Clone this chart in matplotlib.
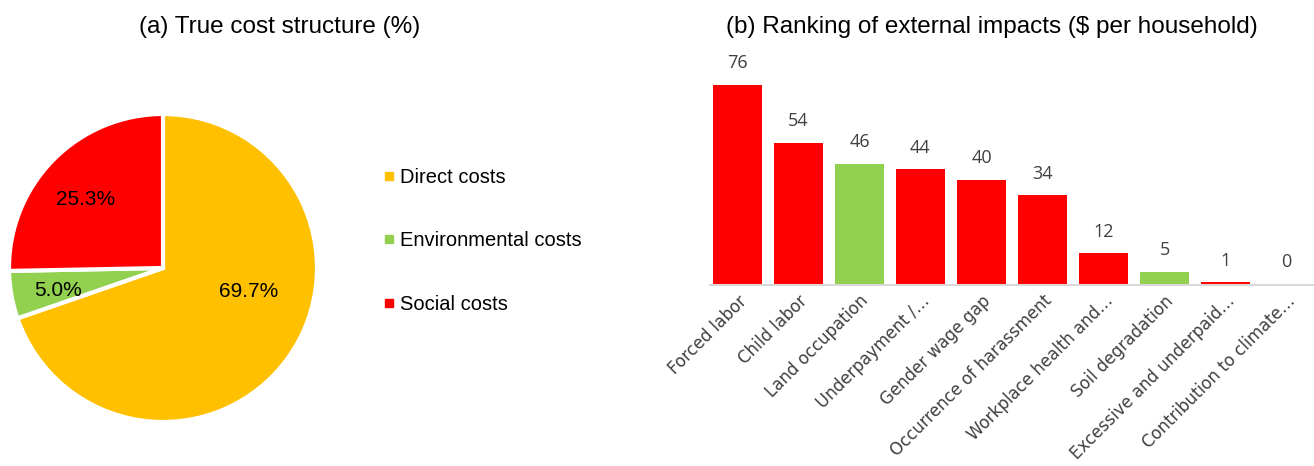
import matplotlib
matplotlib.use("Agg")
import matplotlib.pyplot as plt
from matplotlib.lines import Line2D
import numpy as np

# ---- data ----
pie_labels = ["Direct costs", "Environmental costs", "Social costs"]
pie_values = [69.7, 5.0, 25.3]
pie_colors = ["#FFC000", "#92D050", "#FF0000"]

bar_labels = ["Forced labor", "Child labor", "Land occupation", "Underpayment /\u2026",
              "Gender wage gap", "Occurrence of harassment", "Workplace health and\u2026",
              "Soil degradation", "Excessive and underpaid\u2026", "Contribution to climate\u2026"]
bar_values = [76, 54, 46, 44, 40, 34, 12, 5, 1, 0.4]
bar_kind = ["social", "social", "env", "social", "social", "social", "social", "env", "social", "climate"]
kind_colors = {"social": "#FF0000", "env": "#92D050", "climate": "#F7D5D7"}

W, H = 1314, 466
fig = plt.figure(figsize=(W / 100, H / 100), dpi=100)

title_font = "Liberation Sans"
tick_font = "DejaVu Sans"

# ---- pie ----
cx, cy, r = 163, 268, 154
axp = fig.add_axes([(cx - r) / W, (H - cy - r) / H, 2 * r / W, 2 * r / H])
wedges, texts, autotexts = axp.pie(
    pie_values, colors=pie_colors, startangle=90, counterclock=False,
    autopct="%.1f%%", pctdistance=0.65,
    wedgeprops=dict(edgecolor="white", linewidth=3),
    textprops=dict(fontsize=15, color="black", family=title_font))
# nudge labels towards Excel-like positions (angle shift in degrees, radius fraction)
nudges = [(20, 0.58), (2, 0.70), (3, 0.67)]
cum = 0
for w, t, v, (da, rr) in zip(wedges, autotexts, pie_values, nudges):
    mid = 90 - (cum + v / 2) / 100 * 360 + da
    cum += v
    t.set_position((rr * np.cos(np.radians(mid)), rr * np.sin(np.radians(mid))))
for w in wedges:
    w.set_clip_on(False)
axp.set_xlim(-1, 1)
axp.set_ylim(-1, 1)
axp.set_aspect("equal")
axp.axis("off")

fig.text(280 / W, 1 - 27 / H, "(a) True cost structure (%)", ha="center", va="center",
         fontsize=17.5, family=title_font, color="black")

handles = [Line2D([], [], marker="s", linestyle="none", markersize=6,
                  markerfacecolor=c, markeredgecolor=c) for c in pie_colors]
fig.legend(handles, pie_labels, loc="center left", bbox_to_anchor=(384 / W, 1 - 241 / H),
           frameon=False, prop=dict(family=title_font, size=14.5),
           handlelength=0.45, handletextpad=0.35, labelspacing=2.2, borderpad=0,
           borderaxespad=0)

# ---- bars ----
x0, xr = 710, 1314
ybase, ytop = 285, 61
axb = fig.add_axes([x0 / W, (H - ybase) / H, (xr - x0) / W, (ybase - ytop) / H])
x = np.arange(len(bar_values))
bars = axb.bar(x, bar_values, width=0.79, color=[kind_colors[k] for k in bar_kind])
axb.bar_label(bars, labels=[f"{v:.0f}" for v in bar_values], padding=9,
              fontsize=13, color="#404040", family="Open Sans")
axb.set_xlim(-0.45, 9.45)
axb.set_ylim(0, 85)
axb.set_xticks(x)
axb.set_xticklabels(bar_labels, rotation=45, ha="right", rotation_mode="anchor",
                    fontsize=12, color="#404040", family=tick_font)
axb.tick_params(axis="x", length=0, pad=5)
axb.set_yticks([])
for s in ["top", "right", "left"]:
    axb.spines[s].set_visible(False)
axb.spines["bottom"].set_color("#D9D9D9")
axb.spines["bottom"].set_linewidth(1.5)

fig.text(992 / W, 1 - 27 / H, "(b) Ranking of external impacts (\\$ per household)",
         ha="center", va="center", fontsize=17.5, family=title_font, color="black")

fig.savefig("out.png", dpi=100, facecolor="white")
